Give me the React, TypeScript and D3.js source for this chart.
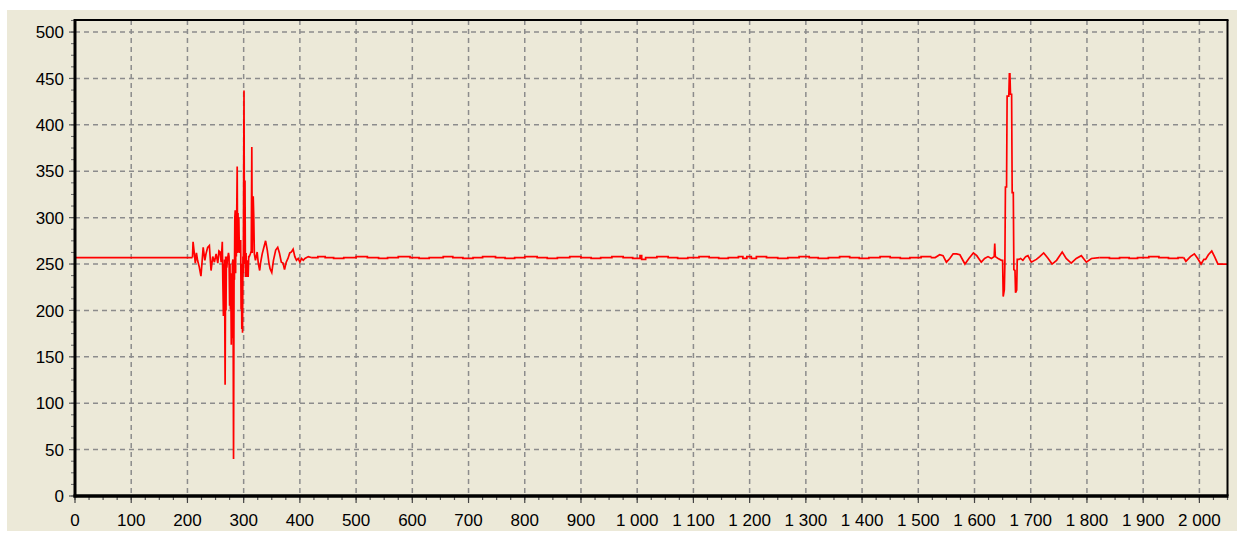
import React from "react";
import * as d3 from "d3";

// Flat lead-in before the first event
const leadIn: [number, number][] = [
  [0, 257],
  [209, 257],
];

// First event: strong burst and its ring-down
const burst: [number, number][] = [
  [209, 257], [210, 274], [212, 263], [214, 251], [216, 262], [218, 254], [221, 247],
  [224, 237], [226, 252], [228, 268], [231, 254], [233, 261], [236, 268], [239, 270],
  [242, 243], [245, 258], [248, 252], [251, 261], [254, 251], [256, 264], [258, 263],
  [260, 252], [262, 274], [263, 230], [264, 194], [264.6, 250], [265.2, 196], [266, 255],
  [267, 120], [268, 258], [268.6, 200], [269.3, 258], [270, 246], [271, 254], [273, 262],
  [274, 258], [275, 205], [275.7, 250], [276.4, 201], [277, 240], [278, 163], [278.7, 240],
  [279.4, 170], [280, 251], [281, 255], [282, 40], [283, 250], [283.6, 233], [284.3, 300],
  [285, 308], [285.7, 240], [286.3, 300], [287, 258], [287.6, 300], [288.5, 355],
  [289.2, 262], [290, 305], [290.7, 263], [291.4, 300], [292, 277], [292.7, 262],
  [293.4, 276], [294, 262], [294.7, 276], [295.4, 201], [296, 250], [296.7, 180],
  [297.4, 250], [298, 176], [298.7, 258], [299.4, 240], [300.6, 437], [301.5, 250],
  [302.4, 340], [303, 260], [303.6, 236], [304.3, 262], [305, 236], [305.7, 254],
  [306.4, 236], [307.2, 254], [308, 236], [309, 258], [310, 258], [312, 261],
  [313.5, 264], [314.5, 376], [315.3, 262], [316, 300], [317, 323], [318, 300],
  [319, 261], [321, 254], [324, 263], [326, 251], [328.5, 243], [330, 251], [333, 261],
  [336, 268], [339, 275], [342, 265], [345, 251], [347, 245], [350, 241], [353, 254],
  [357, 265], [360.6, 268], [363.6, 262], [367, 252], [370, 251], [372.7, 244],
  [375.7, 252], [378.8, 256], [382, 262], [385, 263], [388, 266], [391, 258], [394, 254],
  [397, 256], [400, 252], [403, 256], [406, 254], [409, 256], [415, 258], [420, 257],
];

// Quiet stretch, quantised one-step jitter
const quietA: [number, number][] = [
  [420, 257], [432, 258], [445, 257], [460, 256], [478, 257], [500, 258], [520, 257],
  [540, 256], [556, 257], [575, 258], [596, 257], [612, 256], [630, 257], [655, 258],
  [672, 257], [690, 256], [708, 257], [725, 258], [748, 257], [765, 256], [782, 257],
  [800, 258], [822, 257], [840, 256], [858, 257], [880, 258], [900, 257], [918, 256],
  [935, 257], [955, 258], [975, 257], [992, 256], [1005, 259], [1008, 255], [1015, 257],
  [1035, 258], [1055, 257], [1072, 256], [1090, 257], [1110, 258], [1128, 257],
  [1145, 256], [1162, 257], [1180, 258], [1188, 256], [1195, 258], [1203, 256],
  [1212, 258], [1230, 257], [1250, 256], [1268, 257], [1288, 258], [1306, 257],
  [1322, 256], [1340, 257], [1360, 258], [1378, 257], [1395, 256], [1412, 257],
  [1432, 258], [1450, 257], [1468, 256], [1485, 257], [1505, 258], [1522, 257],
];

// Second event: ripples, sharp spike, ripples
const spike: [number, number][] = [
  [1522, 257], [1530, 257], [1538, 260], [1544, 259], [1550, 252], [1556, 256],
  [1562, 261], [1568, 261], [1574, 260], [1583, 250], [1590, 256], [1598, 262],
  [1604, 259], [1612, 252], [1618, 256], [1624, 258], [1630, 256], [1635, 258],
  [1636, 272], [1637, 258], [1642, 256], [1648, 254], [1650, 254], [1651, 215],
  [1653, 222], [1654, 250], [1655, 333], [1657, 333], [1658, 431], [1661, 431],
  [1662, 455], [1663, 455], [1664, 433], [1666, 433], [1667, 327], [1669, 327],
  [1670, 244], [1672, 243], [1673, 219], [1675, 222], [1676, 255], [1679, 255],
  [1682, 256], [1686, 254], [1691, 258], [1695, 259], [1701, 252], [1710, 255],
  [1716, 258], [1723, 262], [1731, 256], [1738, 250], [1746, 254], [1756, 263],
  [1763, 256], [1772, 251], [1781, 256], [1790, 259], [1799, 252], [1808, 256],
  [1822, 257],
];

// Second quiet stretch
const quietB: [number, number][] = [
  [1822, 257], [1840, 256], [1858, 257], [1875, 256], [1890, 257], [1910, 258],
  [1928, 257], [1945, 256], [1962, 257], [1972, 257],
];

// Closing ripples
const tail: [number, number][] = [
  [1972, 257], [1976, 253], [1984, 258], [1991, 261], [1997, 256], [2003, 250],
  [2008, 255], [2011, 255], [2016, 260], [2022, 264], [2027, 258], [2033, 250],
  [2038, 250], [2050, 250],
];

const xTicks = d3.range(0, 2001, 100);
const xMinorTicks = d3.range(0, 2051, 25);
const yTicks = d3.range(0, 501, 50);
const yMinorTicks = d3.range(0, 513, 12.5);

const W = 1242;
const H = 534;
const left = 75;
const right = 1227.5;
const top = 20;
const bottom = 496;

const fmt = d3.formatLocale({
  decimal: ",",
  thousands: " ",
  grouping: [3],
  currency: ["", ""],
}).format(",d");

export default function App() {
  const x = d3.scaleLinear().domain([0, 2050]).range([left, right]);
  const y = d3.scaleLinear().domain([0, 513]).range([bottom, top]);

  const linear = d3
    .line<[number, number]>()
    .x((d) => x(d[0]))
    .y((d) => y(d[1]));
  const stepped = d3
    .line<[number, number]>()
    .x((d) => x(d[0]))
    .y((d) => y(d[1]))
    .curve(d3.curveStepAfter);

  const font = "'Liberation Sans', Arial, sans-serif";
  const gridStyle = {
    stroke: "#8c8c8c",
    strokeWidth: 1.5,
    strokeDasharray: "5,4",
    fill: "none",
  };
  const lineStyle = {
    stroke: "#ff0000",
    strokeWidth: 1.7,
    fill: "none",
    strokeLinejoin: "miter" as const,
  };

  return (
    <svg
      width={W}
      height={H}
      style={{ position: "absolute", left: 0, top: 0, display: "block" }}
    >
      <rect x={0} y={0} width={W} height={H} fill="#ffffff" />
      <rect x={7} y={10} width={1230} height={521} fill="#ece9d8" />

      <defs>
        <clipPath id="plot">
          <rect x={left} y={top} width={right - left} height={bottom - top} />
        </clipPath>
      </defs>

      {/* grid */}
      <g>
        {xTicks
          .filter((t) => t > 0)
          .map((t) => (
            <line key={"gx" + t} x1={x(t)} x2={x(t)} y1={top} y2={bottom} style={gridStyle} />
          ))}
        {yTicks
          .filter((t) => t > 0)
          .map((t) => (
            <line key={"gy" + t} x1={left} x2={right} y1={y(t)} y2={y(t)} style={gridStyle} />
          ))}
      </g>

      {/* signal */}
      <g clipPath="url(#plot)">
        <path d={linear(leadIn) || ""} style={lineStyle} />
        <path d={linear(burst) || ""} style={lineStyle} />
        <path d={stepped(quietA) || ""} style={lineStyle} />
        <path d={linear(spike) || ""} style={lineStyle} />
        <path d={stepped(quietB) || ""} style={lineStyle} />
        <path d={linear(tail) || ""} style={lineStyle} />
      </g>

      {/* frame */}
      <line x1={left} x2={right + 1} y1={top} y2={top} stroke="#000" strokeWidth={2} />
      <line x1={right} x2={right} y1={top} y2={bottom} stroke="#000" strokeWidth={2} />

      {/* y axis */}
      <g>
        {yMinorTicks.map((t) => (
          <line key={"ym" + t} x1={left - 4} x2={left} y1={y(t)} y2={y(t)} stroke="#666" strokeWidth={1} />
        ))}
        {yTicks.map((t) => (
          <line key={"yM" + t} x1={left - 6} x2={left} y1={y(t)} y2={y(t)} stroke="#555" strokeWidth={1.2} />
        ))}
        <line x1={left} x2={left} y1={top - 1} y2={bottom + 1.5} stroke="#000" strokeWidth={3} />
        {yTicks.map((t) => (
          <text
            key={"yl" + t}
            x={64}
            y={y(t)}
            dy="0.36em"
            textAnchor="end"
            fontFamily={font}
            fontSize={17}
            fill="#000"
          >
            {fmt(t)}
          </text>
        ))}
      </g>

      {/* x axis */}
      <g>
        {xMinorTicks.map((t) => (
          <line key={"xm" + t} x1={x(t)} x2={x(t)} y1={bottom} y2={bottom + 4} stroke="#555" strokeWidth={1.2} />
        ))}
        {xTicks.map((t) => (
          <line key={"xM" + t} x1={x(t)} x2={x(t)} y1={bottom} y2={bottom + 7} stroke="#444" strokeWidth={1.2} />
        ))}
        <line x1={left - 1.5} x2={right + 1} y1={bottom} y2={bottom} stroke="#000" strokeWidth={3.5} />
        {xTicks.map((t) => (
          <text
            key={"xl" + t}
            x={x(t)}
            y={526}
            textAnchor="middle"
            fontFamily={font}
            fontSize={17}
            fill="#000"
          >
            {fmt(t)}
          </text>
        ))}
      </g>
    </svg>
  );
}
